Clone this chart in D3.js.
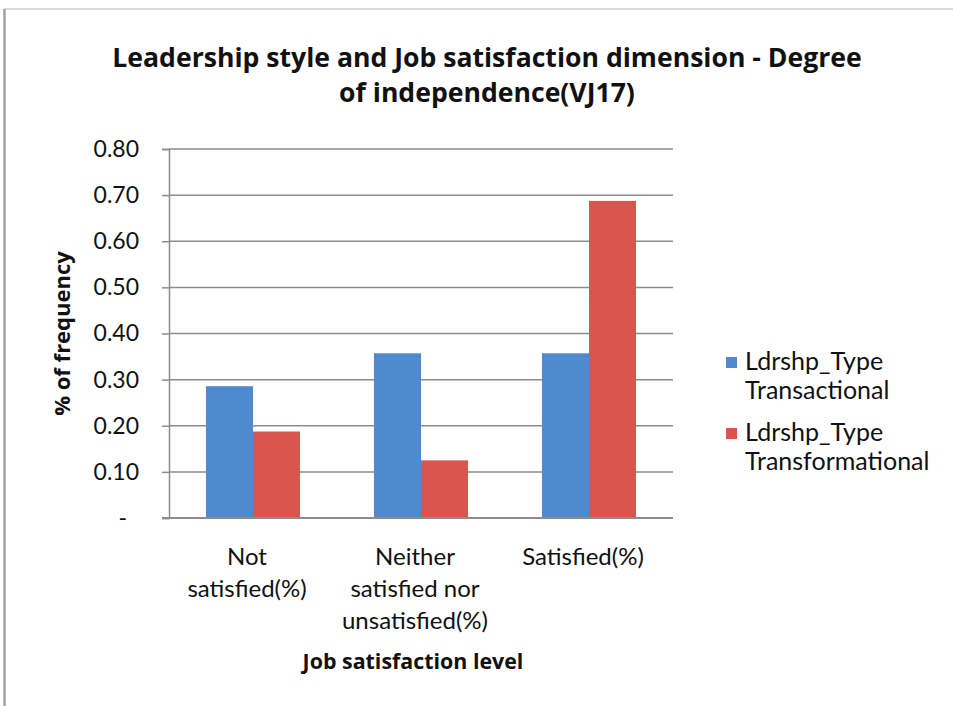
<!DOCTYPE html>
<html>
<head>
<meta charset="utf-8">
<script src="https://cdn.jsdelivr.net/npm/d3@7"></script>
<style>
  html, body { margin: 0; padding: 0; background: #ffffff; }
  svg { display: block; }
  text { fill: #111; }
</style>
</head>
<body>
<svg id="chart" width="953" height="706"></svg>
<script>
// Data
const categories = [
  ["Not", "satisfied(%)"],
  ["Neither", "satisfied nor", "unsatisfied(%)"],
  ["Satisfied(%)"]
];
const categoryKeys = ["Not satisfied(%)", "Neither satisfied nor unsatisfied(%)", "Satisfied(%)"];
const seriesNames = [
  ["Ldrshp_Type", "Transactional"],
  ["Ldrshp_Type", "Transformational"]
];
const transactional = [0.2857, 0.3571, 0.3571];
const transformational = [0.1875, 0.125, 0.6875];
const yTicks = [0, 0.1, 0.2, 0.3, 0.4, 0.5, 0.6, 0.7, 0.8];
const titleLines = ["Leadership style and Job satisfaction dimension - Degree", "of independence(VJ17)"];
const yTitle = "% of frequency";
const xTitle = "Job satisfaction level";

const colors = ["#4F8ACF", "#D9564E"];
const seriesValues = [transactional, transformational];

const svg = d3.select("#chart");
const W = 953, H = 706;
const bodyFont = "Lato, 'Open Sans', sans-serif";
const boldFont = "'Open Sans', Lato, sans-serif";

// Chart area frame
svg.append("line").attr("x1", 4).attr("x2", W).attr("y1", 9).attr("y2", 9)
  .attr("stroke", "#cfcfcf").attr("stroke-width", 1.5);
svg.append("line").attr("x1", 4.5).attr("x2", 4.5).attr("y1", 9).attr("y2", H)
  .attr("stroke", "#a0a0a0").attr("stroke-width", 2.5);

// Plot geometry
const plot = { left: 169, right: 673, top: 149, bottom: 518 };

const x = d3.scaleBand()
  .domain(categoryKeys)
  .range([plot.left, plot.right])
  .paddingInner(0.44)
  .paddingOuter(0.22);

const xs = d3.scaleBand()
  .domain(d3.range(seriesValues.length))
  .range([0, x.bandwidth()]);

const y = d3.scaleLinear()
  .domain([0, 0.8])
  .range([plot.bottom, plot.top]);

// Horizontal gridlines
svg.append("g")
  .selectAll("line")
  .data(yTicks.filter(d => d > 0))
  .join("line")
  .attr("x1", plot.left)
  .attr("x2", plot.right)
  .attr("y1", d => y(d))
  .attr("y2", d => y(d))
  .attr("stroke", "#8c8c8c")
  .attr("stroke-width", 1.5);

// Bars
const groups = svg.append("g")
  .selectAll("g")
  .data(categoryKeys)
  .join("g")
  .attr("transform", d => `translate(${x(d)},0)`);

groups.selectAll("rect")
  .data((d, i) => seriesValues.map((vals, s) => ({ s, v: vals[i] })))
  .join("rect")
  .attr("x", d => xs(d.s))
  .attr("width", xs.bandwidth())
  .attr("y", d => y(d.v))
  .attr("height", d => y(0) - y(d.v))
  .attr("fill", d => colors[d.s]);

// Y axis
const yAxis = d3.axisLeft(y)
  .tickValues(yTicks)
  .tickSize(7)
  .tickPadding(23)
  .tickFormat(d => d === 0 ? "-" : d3.format(".2f")(d));

const yg = svg.append("g")
  .attr("transform", `translate(${plot.left},0)`)
  .call(yAxis);
yg.select(".domain").attr("stroke", "#8c8c8c").attr("stroke-width", 1.5);
yg.selectAll(".tick line").attr("stroke", "#8c8c8c").attr("stroke-width", 1.5);
yg.selectAll(".tick text")
  .style("font-family", bodyFont)
  .style("font-size", "23px")
  .style("fill", "#111")
  .attr("dx", d => d === 0 ? -12 : 0);

// X axis baseline
svg.append("line")
  .attr("x1", plot.left - 7).attr("x2", plot.right)
  .attr("y1", plot.bottom).attr("y2", plot.bottom)
  .attr("stroke", "#8c8c8c").attr("stroke-width", 2);

// Category labels (wrapped lines)
const catG = svg.append("g");
categories.forEach((lines, i) => {
  const cx = x(categoryKeys[i]) + x.bandwidth() / 2 - 6;
  const t = catG.append("text")
    .attr("text-anchor", "middle")
    .style("font-family", bodyFont)
    .style("font-size", "24px");
  lines.forEach((ln, j) => {
    t.append("tspan").attr("x", cx).attr("y", 565 + j * 32).text(ln);
  });
});

// Axis titles
svg.append("text")
  .attr("transform", `translate(${70},${(plot.top + plot.bottom) / 2}) rotate(-90)`)
  .attr("text-anchor", "middle")
  .style("font-family", boldFont)
  .style("font-size", "22px")
  .style("font-weight", "bold")
  .text(yTitle);

svg.append("text")
  .attr("x", 413)
  .attr("y", 669)
  .attr("text-anchor", "middle")
  .style("font-family", boldFont)
  .style("font-size", "21.4px")
  .style("font-weight", "bold")
  .text(xTitle);

// Title
const title = svg.append("text")
  .attr("text-anchor", "middle")
  .style("font-family", boldFont)
  .style("font-size", "26.6px")
  .style("font-weight", "bold");
titleLines.forEach((ln, j) => {
  title.append("tspan").attr("x", 487).attr("y", 67 + j * 35).text(ln);
});

// Legend
const legend = svg.append("g");
const legendY = [357, 428];
seriesNames.forEach((lines, i) => {
  legend.append("rect")
    .attr("x", 726).attr("y", legendY[i])
    .attr("width", 11).attr("height", 11)
    .attr("fill", colors[i]);
  const t = legend.append("text")
    .style("font-family", bodyFont)
    .style("font-size", "25px");
  lines.forEach((ln, j) => {
    t.append("tspan").attr("x", 745).attr("y", legendY[i] + 13 + j * 29).text(ln);
  });
});
</script>
</body>
</html>
